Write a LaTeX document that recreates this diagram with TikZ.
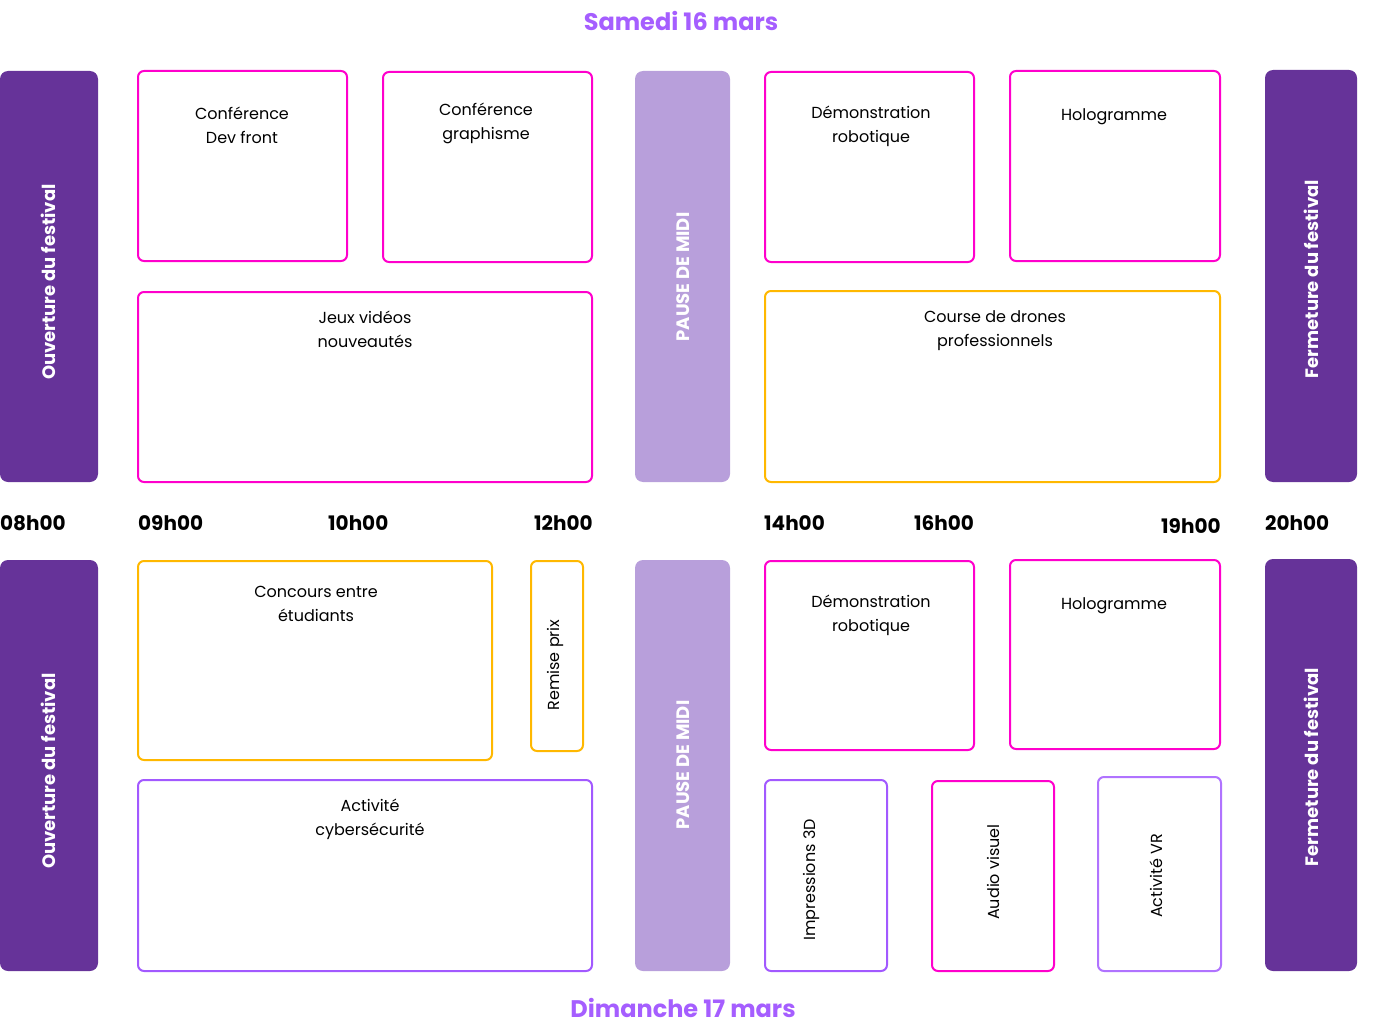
\documentclass[tikz,border=0pt]{standalone}
\usepackage{fontspec}
\setmainfont{Poppins}
\definecolor{barpurple}{HTML}{663399}
\definecolor{pausepurple}{HTML}{B89FDB}
\definecolor{magentaline}{HTML}{FF00CC}
\definecolor{orangeline}{HTML}{FFB800}
\definecolor{violetline}{HTML}{A259FF}
\definecolor{violetlight}{HTML}{B073FF}
\definecolor{titlepurple}{HTML}{A55EFF}
\tikzset{
  bar/.style={fill=barpurple, draw=none, rounded corners=8pt, inner sep=0pt},
  pausebar/.style={fill=pausepurple, draw=none, rounded corners=8pt, inner sep=0pt},
  evbox/.style={draw, line width=2pt, rounded corners=6pt, fill=white, inner sep=0pt},
  magbox/.style={evbox, draw=magentaline},
  orbox/.style={evbox, draw=orangeline},
  vibox/.style={evbox, draw=violetline},
  vlbox/.style={evbox, draw=violetlight},
  evtext/.style={align=center, inner sep=0pt, font=\fontsize{16}{24}\selectfont},
  vtext/.style={rotate=90, inner sep=0pt, font=\fontsize{16}{20}\selectfont},
  bartext/.style={rotate=90, inner sep=0pt, text=white, font=\fontsize{18}{22}\selectfont\bfseries},
  timetext/.style={anchor=west, inner sep=0pt, font=\fontsize{20}{24}\selectfont\bfseries},
  titletext/.style={inner sep=0pt, text=titlepurple, font=\fontsize{24}{28}\selectfont\bfseries},
}
\newcommand{\rbox}[6]{%
  \pgfmathsetmacro{\bw}{#4-#2}\pgfmathsetmacro{\bh}{#5-#3}%
  \node[#6, minimum width=\bw pt, minimum height=\bh pt] (#1) at ({(#2+#4)/2},{(#3+#5)/2}) {};}
\begin{document}
\begin{tikzpicture}[x=1pt,y=-1pt]
\useasboundingbox (0,0) rectangle (1390,1030);
% titles
\node[titletext] (t1) at (681,21) {Samedi 16 mars};
\node[titletext] (t2) at (683,1008) {Dimanche 17 mars};
% ---- Saturday ----
\rbox{ouv1}{0}{71}{98}{482}{bar}
\rbox{dev}{138}{71}{347}{261}{magbox}
\rbox{graph}{383}{72}{592}{262}{magbox}
\rbox{jeux}{138}{292}{592}{482}{magbox}
\rbox{pause1}{635}{71}{730}{482}{pausebar}
\rbox{demo1}{765}{72}{974}{262}{magbox}
\rbox{holo1}{1010}{71}{1220}{261}{magbox}
\rbox{drone}{765}{291}{1220}{482}{orbox}
\rbox{ferm1}{1265}{70}{1357}{482}{bar}
\node[bartext] (ouv1t) at (48,282) {Ouverture du festival};
\node[evtext] (devt) at (242,125) {Conférence\\Dev front};
\node[evtext] (grapht) at (486,123) {Conférence\\graphisme};
\node[evtext] (jeuxt) at (365,329) {Jeux vidéos\\nouveautés};
\node[bartext] (pause1t) at (683,277) {PAUSE DE MIDI};
\node[evtext] (demo1t) at (871,126) {Démonstration\\robotique};
\node[evtext] (holo1t) at (1114,117) {Hologramme};
\node[evtext] (dronet) at (995,331) {Course de drones\\professionnels};
\node[bartext] (ferm1t) at (1311,279) {Fermeture du festival};
% ---- times ----
\node[timetext] (h08) at (0,523) {08h00};
\node[timetext] (h09) at (138,523) {09h00};
\node[timetext] (h10) at (328,523) {10h00};
\node[timetext] (h12) at (534,523) {12h00};
\node[timetext] (h14) at (764,523) {14h00};
\node[timetext] (h16) at (914,523) {16h00};
\node[timetext] (h19) at (1161,526) {19h00};
\node[timetext] (h20) at (1265,523) {20h00};
% ---- Sunday ----
\rbox{ouv2}{0}{560}{98}{971}{bar}
\rbox{conc}{138}{561}{492}{760}{orbox}
\rbox{remise}{531}{561}{583}{751}{orbox}
\rbox{cyber}{138}{780}{592}{971}{vibox}
\rbox{pause2}{635}{560}{730}{971}{pausebar}
\rbox{demo2}{765}{561}{974}{750}{magbox}
\rbox{holo2}{1010}{560}{1220}{749}{magbox}
\rbox{impr}{765}{780}{887}{971}{vibox}
\rbox{audio}{932}{781}{1054}{971}{magbox}
\rbox{vr}{1098}{777}{1221}{971}{vlbox}
\rbox{ferm2}{1265}{559}{1357}{971}{bar}
\node[bartext] (ouv2t) at (48,771) {Ouverture du festival};
\node[evtext] (conct) at (316,604) {Concours entre\\étudiants};
\node[vtext] (remiset) at (555,665) {Remise prix};
\node[evtext] (cybert) at (370,819) {Activité\\cybersécurité};
\node[bartext] (pause2t) at (683,765) {PAUSE DE MIDI};
\node[evtext] (demo2t) at (871,615) {Démonstration\\robotique};
\node[evtext] (holo2t) at (1114,606) {Hologramme};
\node[vtext] (imprt) at (811,880) {Impressions 3D};
\node[vtext] (audiot) at (993,872) {Audio visuel};
\node[vtext] (vrt) at (1156,876) {Activité VR};
\node[bartext] (ferm2t) at (1311,767) {Fermeture du festival};
\end{tikzpicture}
\end{document}
